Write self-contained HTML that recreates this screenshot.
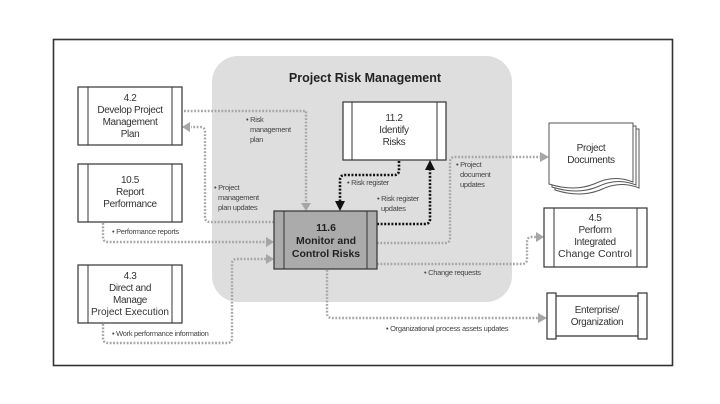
<!DOCTYPE html>
<html><head><meta charset="utf-8"><style>
html,body{margin:0;padding:0;background:#fff;}
svg{display:block;}
text{font-family:"Liberation Sans Narrow","Liberation Sans",sans-serif;fill:#333;}
.b{font-size:10px;text-anchor:middle;letter-spacing:-0.35px;}
.t{font-size:10px;text-anchor:middle;}
.l{font-size:7.5px;fill:#444;letter-spacing:-0.3px;}
.g{fill:none;stroke:#a6a6a6;stroke-width:2.4;stroke-dasharray:1.8 1.6;}
.k{fill:none;stroke:#111;stroke-width:2.6;stroke-dasharray:2 1.6;}
.box{fill:#fff;stroke:#333;stroke-width:1.2;}
</style></head><body>
<svg width="720" height="404" viewBox="0 0 720 404" xmlns="http://www.w3.org/2000/svg">
<rect x="0" y="0" width="720" height="404" fill="#fff"/>
<rect x="53.5" y="39.5" width="619" height="326" fill="#fff" stroke="#333" stroke-width="1.6"/>
<rect x="212" y="56" width="300" height="246" rx="26" fill="#dedede"/>
<text x="365" y="82" style="font-family:'Liberation Sans',sans-serif;font-size:12.5px;font-weight:bold;text-anchor:middle;fill:#222">Project Risk Management</text>

<path class="g" d="M184 111 H306 V204"/>
<polygon points="301,203 311,203 306,211" fill="#a6a6a6"/>
<path class="g" d="M274 222 H210 Q205 222 205 217 V132 Q205 127 200 127 H191"/>
<polygon points="190,122 190,132 182,127" fill="#a6a6a6"/>
<path class="g" d="M103 223 V237 Q103 242 108 242 H266"/>
<polygon points="266,237 266,247 274,242" fill="#a6a6a6"/>
<path class="g" d="M103 324 V338 Q103 343 108 343 H227 Q232 343 232 338 V264 Q232 259 237 259 H266"/>
<polygon points="266,254 266,264 274,259" fill="#a6a6a6"/>
<path class="g" d="M377 243 H445 Q450 243 450 238 V162 Q450 157 455 157 H540"/>
<polygon points="540,152 540,162 549,157" fill="#a6a6a6"/>
<path class="g" d="M377 264 H522 Q527 264 527 259 V242 Q527 237 532 237 H536"/>
<polygon points="536,232 536,242 544,237" fill="#a6a6a6"/>
<path class="g" d="M327 270 V313 Q327 318 332 318 H538"/>
<polygon points="538,313 538,323 547,318" fill="#a6a6a6"/>

<path class="k" d="M399 161 V170 Q399 175 394 175 H345 Q340 175 340 180 V202"/>
<polygon points="335,201 345,201 340,211" fill="#111"/>
<path class="k" d="M377 224 H425 Q430 224 430 219 V170"/>
<polygon points="425,170 435,170 430,160" fill="#111"/>

<rect class="box" x="78" y="87" width="104" height="58"/>
<line x1="88" y1="87" x2="88" y2="145" stroke="#333"/><line x1="172" y1="87" x2="172" y2="145" stroke="#333"/>
<text class="b" x="130" y="101">4.2</text>
<text class="b" x="130" y="113">Develop Project</text>
<text class="b" x="130" y="125">Management</text>
<text class="b" x="130" y="137">Plan</text>
<rect class="box" x="78" y="164" width="104" height="58"/>
<line x1="88" y1="164" x2="88" y2="222" stroke="#333"/><line x1="172" y1="164" x2="172" y2="222" stroke="#333"/>
<text class="b" x="130" y="183">10.5</text>
<text class="b" x="130" y="195">Report</text>
<text class="b" x="130" y="207">Performance</text>
<rect class="box" x="78" y="265" width="104" height="58"/>
<line x1="88" y1="265" x2="88" y2="323" stroke="#333"/><line x1="172" y1="265" x2="172" y2="323" stroke="#333"/>
<text class="b" x="130" y="279">4.3</text>
<text class="b" x="130" y="291">Direct and</text>
<text class="b" x="130" y="303">Manage</text>
<text class="t" x="130" y="315" textLength="78" lengthAdjust="spacingAndGlyphs">Project Execution</text>
<rect class="box" x="343" y="102" width="103" height="58"/>
<line x1="352" y1="102" x2="352" y2="160" stroke="#333"/><line x1="437" y1="102" x2="437" y2="160" stroke="#333"/>
<text class="b" x="394" y="121">11.2</text>
<text class="b" x="394" y="133">Identify</text>
<text class="b" x="394" y="145">Risks</text>
<rect x="274" y="211" width="103" height="58" fill="#ababab" stroke="#333" stroke-width="1.2"/>
<line x1="284" y1="211" x2="284" y2="269" stroke="#333"/><line x1="367" y1="211" x2="367" y2="269" stroke="#333"/>
<text x="326" y="231" style="font-family:'Liberation Sans',sans-serif;font-size:10.5px;font-weight:bold;text-anchor:middle;fill:#222">11.6</text>
<text x="326" y="244" style="font-family:'Liberation Sans',sans-serif;font-size:10.5px;font-weight:bold;text-anchor:middle;fill:#222">Monitor and</text>
<text x="326" y="257" style="font-family:'Liberation Sans',sans-serif;font-size:10.5px;font-weight:bold;text-anchor:middle;fill:#222">Control Risks</text>
<path d="M555 129 H639 V188 Q620 180 600 190 Q580 198 555 190 Z" fill="#fff" stroke="#555"/>
<path d="M552 126 H636 V185 Q617 177 597 187 Q577 195 552 187 Z" fill="#fff" stroke="#555"/>
<path d="M549 123 H633 V182 Q614 174 594 184 Q574 192 549 184 Z" fill="#fff" stroke="#555"/>
<text class="b" x="591" y="151">Project</text>
<text class="b" x="591" y="163">Documents</text>
<rect class="box" x="544" y="208" width="103" height="59"/>
<line x1="554" y1="208" x2="554" y2="267" stroke="#333"/><line x1="637" y1="208" x2="637" y2="267" stroke="#333"/>
<text class="b" x="595" y="221">4.5</text>
<text class="b" x="595" y="233">Perform</text>
<text class="b" x="595" y="245">Integrated</text>
<text class="t" x="595" y="257" textLength="74" lengthAdjust="spacingAndGlyphs">Change Control</text>
<line x1="556" y1="296" x2="638" y2="296" stroke="#333" stroke-width="1.2"/>
<line x1="556" y1="336" x2="638" y2="336" stroke="#333" stroke-width="1.2"/>
<rect class="box" x="547" y="293" width="9" height="46"/>
<rect class="box" x="638" y="293" width="9" height="46"/>
<text class="b" x="597" y="313">Enterprise/</text>
<text class="b" x="597" y="325">Organization</text>

<text class="l" x="246" y="122">• Risk</text>
<text class="l" x="250" y="132">management</text>
<text class="l" x="250" y="142">plan</text>
<text class="l" x="214" y="190">• Project</text>
<text class="l" x="218" y="200">management</text>
<text class="l" x="218" y="210">plan updates</text>
<text class="l" x="112" y="234">• Performance reports</text>
<text class="l" x="112" y="336">• Work performance information</text>
<text class="l" x="347" y="185">• Risk register</text>
<text class="l" x="377" y="201">• Risk register</text>
<text class="l" x="381" y="211">updates</text>
<text class="l" x="456" y="167">• Project</text>
<text class="l" x="460" y="177">document</text>
<text class="l" x="460" y="187">updates</text>
<text class="l" x="424" y="275">• Change requests</text>
<text class="l" x="386" y="331">• Organizational process assets updates</text>
</svg>
</body></html>
